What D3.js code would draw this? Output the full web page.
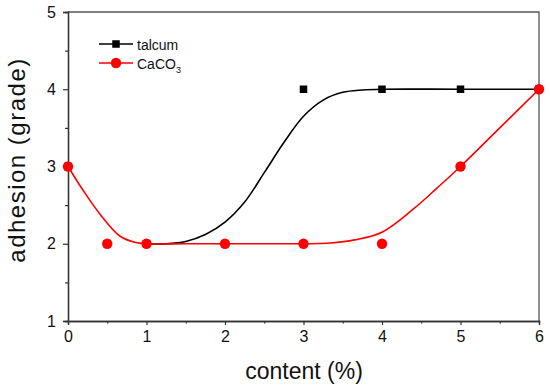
<!DOCTYPE html>
<html>
<head>
<meta charset="utf-8">
<script src="https://cdn.jsdelivr.net/npm/d3@7"></script>
<style>
  body { margin: 0; background: #fff; }
  text { font-family: "Liberation Sans", Arial, sans-serif; fill: #111; }
</style>
</head>
<body>
<div id="chart"></div>
<script>
// measured data points
const contents = [0, 0.5, 1, 2, 3, 4, 5, 6];
const talcum = [3, 2, 2, 2, 4, 4, 4, 4];
const caco3 = [3, 2, 2, 2, 2, 2, 3, 4];

// fitted curves
const talcumFitX = [1, 1.25, 1.5, 1.75, 2, 2.25, 2.5, 2.75, 3, 3.25, 3.5, 3.75, 4, 5, 6];
const talcumFitY = [2, 2.0, 2.03, 2.12, 2.28, 2.54, 2.92, 3.31, 3.65, 3.86, 3.96, 3.99, 4, 4, 4];
const caco3FitX = [0, 0.2, 0.41, 0.66, 0.85, 1, 1.5, 2, 2.5, 3, 3.34, 3.65, 4, 4.4, 4.7, 5, 5.5, 6];
const caco3FitY = [3, 2.68, 2.38, 2.1, 2.02, 2.0, 2, 2, 2, 2, 2.01, 2.05, 2.15, 2.45, 2.72, 3, 3.5, 4];

const xTicks = [0, 1, 2, 3, 4, 5, 6];
const yTicks = [1, 2, 3, 4, 5];

const width = 550, height = 390;
const svg = d3.select("#chart").append("svg")
    .attr("width", width)
    .attr("height", height);

const x = d3.scaleLinear().domain([0, 6]).range([68, 539]);
const y = d3.scaleLinear().domain([1, 5]).range([321, 12]);

// frame (top + right)
svg.append("path")
    .attr("d", `M${x(0)},${y(5)}H${x(6)}V${y(1)}`)
    .attr("fill", "none")
    .attr("stroke", "#555")
    .attr("stroke-width", 1.3);

// x axis
const xAxis = svg.append("g")
    .attr("transform", `translate(0,${y(1)})`)
    .call(d3.axisBottom(x).tickValues(xTicks).tickSize(4).tickPadding(6).tickFormat(d3.format("d")))
xAxis.append("g").call(d3.axisBottom(x).tickValues(d3.range(0.5, 6, 1)).tickSize(2.5).tickFormat(""))
xAxis.selectAll("path.domain").attr("stroke", "#333").attr("stroke-width", 1.3)
xAxis.selectAll("line").attr("stroke", "#333").attr("stroke-width", 1.2)
xAxis.selectAll("text").style("font-size", "16px").attr("fill", "#111")
    .style("font-family", "Liberation Sans, Arial, sans-serif")

// y axis
const yAxis = svg.append("g")
    .attr("transform", `translate(${x(0)},0)`)
    .call(d3.axisLeft(y).tickValues(yTicks).tickSize(5).tickPadding(7).tickFormat(d3.format("d")))
yAxis.append("g").call(d3.axisLeft(y).tickValues(d3.range(1.5, 5, 1)).tickSize(3).tickFormat(""))
yAxis.selectAll("path.domain").attr("stroke", "#333").attr("stroke-width", 1.3)
yAxis.selectAll("line").attr("stroke", "#333").attr("stroke-width", 1.2)
yAxis.selectAll("text").style("font-size", "16px").attr("fill", "#111")
    .style("font-family", "Liberation Sans, Arial, sans-serif")

// axis titles
svg.append("text")
    .attr("text-anchor", "middle")
    .attr("x", 304)
    .attr("y", 379)
    .style("font-size", "23px")
    .text("content (%)");

svg.append("text")
    .attr("text-anchor", "middle")
    .attr("transform", "translate(25,160) rotate(-90)")
    .style("font-size", "24px")
    .style("letter-spacing", "1.5px")
    .text("adhesion (grade)");

// fit lines
const line = d3.line()
    .x(d => x(d[0]))
    .y(d => y(d[1]))
    .curve(d3.curveCatmullRom.alpha(0.5));

svg.append("path")
    .datum(d3.zip(talcumFitX, talcumFitY))
    .attr("d", line)
    .attr("fill", "none")
    .attr("stroke", "#000")
    .attr("stroke-width", 1.6);

svg.append("path")
    .datum(d3.zip(caco3FitX, caco3FitY))
    .attr("d", line)
    .attr("fill", "none")
    .attr("stroke", "#f00")
    .attr("stroke-width", 1.6);

// markers
const sq = 7.5;
svg.selectAll("rect.talc")
    .data(d3.zip(contents, talcum))
    .join("rect")
    .attr("class", "talc")
    .attr("x", d => x(d[0]) - sq / 2)
    .attr("y", d => y(d[1]) - sq / 2)
    .attr("width", sq)
    .attr("height", sq)
    .attr("fill", "#000");

svg.selectAll("circle.caco")
    .data(d3.zip(contents, caco3))
    .join("circle")
    .attr("class", "caco")
    .attr("cx", d => x(d[0]))
    .attr("cy", d => y(d[1]))
    .attr("r", 5.2)
    .attr("fill", "#f00");

// legend
const legend = svg.append("g");
legend.append("line").attr("x1", 99).attr("x2", 133).attr("y1", 44).attr("y2", 44)
    .attr("stroke", "#000").attr("stroke-width", 1.6);
legend.append("rect").attr("x", 116 - sq / 2).attr("y", 44 - sq / 2)
    .attr("width", sq).attr("height", sq).attr("fill", "#000");
legend.append("text").attr("x", 137).attr("y", 49.5).style("font-size", "14px").text("talcum");

legend.append("line").attr("x1", 99).attr("x2", 133).attr("y1", 63).attr("y2", 63)
    .attr("stroke", "#f00").attr("stroke-width", 1.6);
legend.append("circle").attr("cx", 116).attr("cy", 63).attr("r", 5.2).attr("fill", "#f00");
const t2 = legend.append("text").attr("x", 137).attr("y", 68.5).style("font-size", "14px");
t2.append("tspan").text("CaCO");
t2.append("tspan").attr("dy", 4).style("font-size", "9px").text("3");
</script>
</body>
</html>
